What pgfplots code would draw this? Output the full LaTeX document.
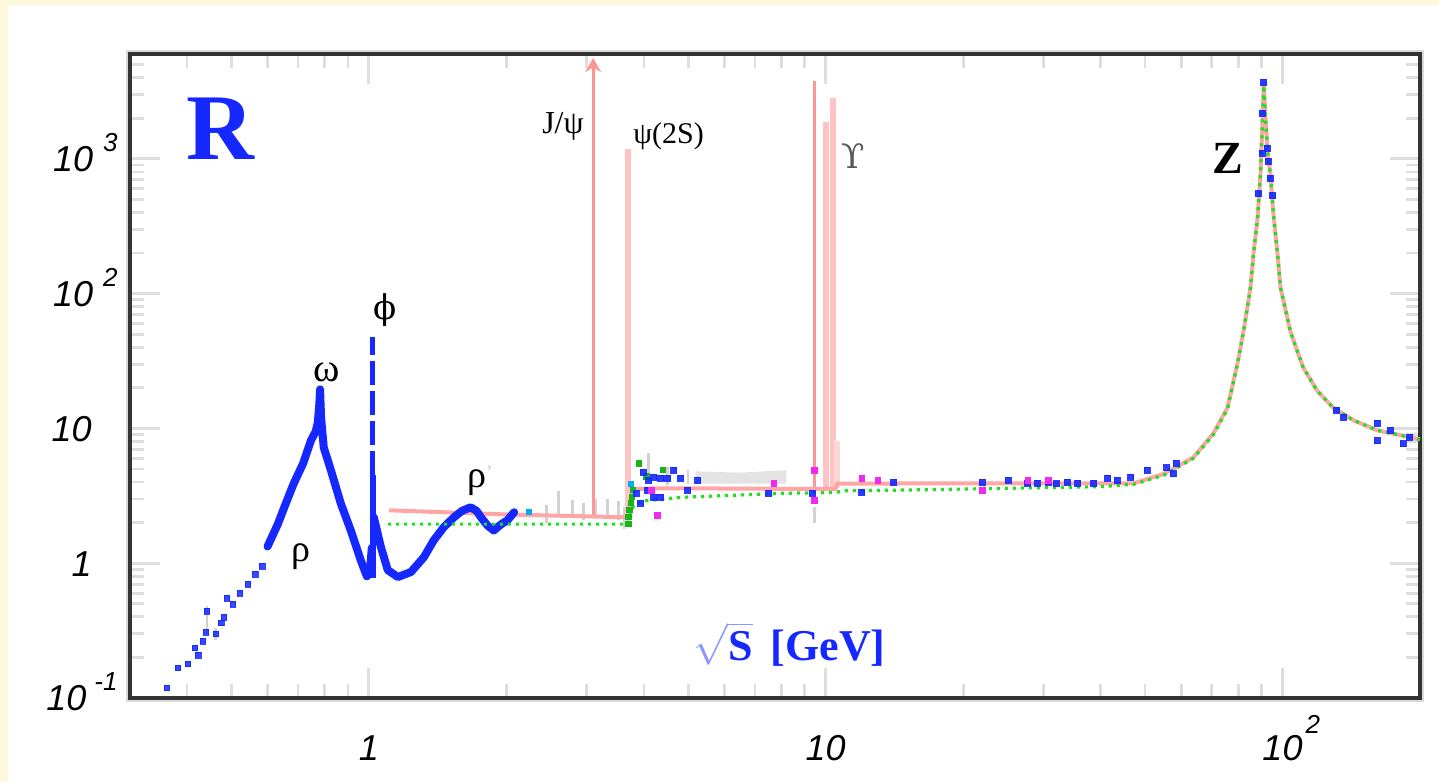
\documentclass[border=0pt]{standalone}
\usepackage{pgfplots}
\pgfplotsset{compat=1.18}
\usepackage{fontspec}
\setmainfont{Liberation Sans}
\newfontfamily\serif{Liberation Serif}
\newfontfamily\dserif{DejaVu Serif}
\usetikzlibrary{arrows.meta}
\definecolor{cream}{RGB}{255,248,220}
\definecolor{dblue}{RGB}{20,40,255}
\definecolor{lblue}{RGB}{140,150,255}
\definecolor{pinkr}{RGB}{255,150,150}
\definecolor{pinkl}{RGB}{255,195,195}
\definecolor{redl}{RGB}{255,165,165}
\definecolor{gline}{RGB}{30,225,30}
\definecolor{tickgray}{RGB}{222,222,222}
\definecolor{mag}{RGB}{240,40,240}
\newcommand\tl{\fontsize{18}{18}\selectfont\itshape}
\newcommand\ex[1]{{\fontsize{13}{13}\selectfont\itshape #1}}
\begin{document}
\begin{tikzpicture}
\fill[cream] (0,0) rectangle (719.5pt,391pt);
\fill[white] (4pt,0) rectangle (719.5pt,388.5pt);
\draw[gray!30, line width=1pt] (63.3pt,40.3pt) rectangle (711.7pt,365.7pt);
\begin{axis}[
  at={(65pt,42pt)}, anchor=south west,
  scale only axis, width=645pt, height=322pt,
  xmode=log, ymode=log,
  xmin=0.3, xmax=200, ymin=0.1, ymax=6000,
  axis line style={line width=1.6pt, black!80},
  tick align=inside,
  major tick length=15pt, minor tick length=7pt,
  tick style={tickgray, line width=1.4pt},
  xtick={1,10,100},
  minor xtick={0.4,0.5,0.6,0.7,0.8,0.9,2,3,4,5,6,7,8,9,20,30,40,50,60,70,80,90},
  ytick={0.1,1,10,100,1000},
  minor ytick={0.2,0.3,0.4,0.5,0.6,0.7,0.8,0.9,2,3,4,5,6,7,8,9,20,30,40,50,60,70,80,90,200,300,400,500,600,700,800,900,2000,3000,4000,5000},
  xticklabels={{\tl 1},{\tl 10},{\tl 10\rlap{\hspace{1.5pt}\raisebox{13.5pt}{\ex{2}}}}},
  yticklabels={{\tl 10\hspace{4pt}\raisebox{10pt}{\ex{-1}}},{\tl 1\hspace*{13pt}},{\tl 10\hspace*{13pt}},{\tl 10\hspace{5pt}\raisebox{10pt}{\ex{2}}},{\tl 10\hspace{5pt}\raisebox{10pt}{\ex{3}}}},
  xticklabel style={anchor=base, yshift=-31pt},
  yticklabel style={anchor=base east, inner sep=0pt, xshift=-6pt, yshift=-6.4pt},
  unbounded coords=jump,
]
% grey error bands / bars
\addplot[draw=none, fill=gray!22] coordinates {(5.2,3.9) (8.2,3.9) (8.2,4.9) (6.5,4.7) (5.2,4.8)} -- cycle;
\addplot[gray!35, line width=1.3pt] coordinates {
(2.45,2.0) (2.45,2.7) (2.6,nan) (2.6,2.2) (2.6,3.45) (2.79,nan) (2.79,2.2) (2.79,2.95)
(2.95,nan) (2.95,2.1) (2.95,2.8) (3.14,nan) (3.14,2.2) (3.14,3.0) (3.33,nan) (3.33,2.2) (3.33,3.0)
(3.52,nan) (3.52,2.1) (3.52,2.9) (3.62,nan) (3.62,1.8) (3.62,2.6) (4.1,nan) (4.1,4.5) (4.1,6.6)
(4.5,nan) (4.5,3.8) (4.5,5.2) (5.0,nan) (5.0,3.9) (5.0,4.9) (9.46,nan) (9.46,2.0) (9.46,2.6)
(0.442,nan) (0.442,0.3) (0.442,0.48) (0.461,nan) (0.461,0.27) (0.461,0.33)};
% resonance lines
\addplot[pinkr, line width=1.6pt, -{Stealth[length=7pt,width=8pt]}] coordinates {(3.097,2.2) (3.097,5600)};
\addplot[pinkl, line width=3pt] coordinates {(3.686,2.2) (3.686,1190)};
\addplot[pinkr, line width=1.4pt] coordinates {(9.46,3.3) (9.46,3780)};
\addplot[pinkl, line width=3pt] coordinates {(10.02,3.6) (10.02,1880)};
\addplot[pinkl, line width=3pt] coordinates {(10.36,3.6) (10.36,2830)};
\addplot[pinkl!70, line width=3pt] coordinates {(10.58,3.6) (10.58,8.1)};
% QCD line
\addplot[redl, line width=2pt] coordinates {
(1.106,2.47) (2.0,2.3) (3.69,2.19) (3.72,2.6) (3.78,3.55) (4.5,3.6) (10.5,3.55) (10.6,3.9)
(47.2,3.92) (55,4.6) (63.8,6.1) (70.6,9.2) (75.8,14.3) (79.7,30.3) (82.2,53) (85.1,111)
(86.4,198) (88.2,365) (89.5,774) (90.3,1700) (91.0,3600) (91.8,2000) (93.0,1000) (94.1,774)
(95.5,391) (97.5,198) (99,111) (104,53) (105.7,44.9) (111,28.3) (119,19.1) (129,14.3)
(143,11.5) (161,9.7) (200,8.3)};
% blue low-energy data
\addplot[dblue, only marks, mark=square*, mark size=1.4pt, opacity=0.85] coordinates {
(0.361,0.119) (0.382,0.167) (0.402,0.179) (0.416,0.235) (0.423,0.208) (0.433,0.264)
(0.440,0.308) (0.442,0.441) (0.463,0.298) (0.475,0.360) (0.482,0.398) (0.489,0.551)
(0.504,0.497) (0.522,0.600) (0.543,0.699) (0.564,0.829) (0.584,0.950)};
\addplot[dblue, line width=4pt, line join=round, line cap=round] coordinates {
(0.600,1.33) (0.632,1.95) (0.658,2.78) (0.685,3.91) (0.718,5.5) (0.747,8.15) (0.765,9.5)
(0.773,11) (0.779,15) (0.782,19.5) (0.786,12) (0.797,7.2) (0.826,4.89) (0.868,2.78)
(0.913,1.75) (0.960,1.05) (0.990,0.8) (1.005,0.85) (1.015,1.3)};
\addplot[dblue, line width=3pt] coordinates {(1.019,0.78) (1.019,4.5)};
\addplot[dblue, line width=2.5pt, dash pattern=on 12pt off 3pt] coordinates {(1.019,4.5) (1.019,48)};
\addplot[dblue, line width=4pt, line join=round, line cap=round] coordinates {
(1.025,2.2) (1.063,1.31) (1.10,0.89) (1.157,0.79) (1.236,0.86) (1.32,1.11) (1.387,1.48)
(1.459,1.85) (1.535,2.19) (1.60,2.45) (1.67,2.6) (1.72,2.45) (1.758,2.2) (1.82,1.9)
(1.877,1.75) (1.95,1.95) (2.01,2.08) (2.08,2.39)};
% higher-energy data points
\addplot[gline!80!black, only marks, mark=square*, mark size=1.3pt] coordinates {
(3.70,1.95) (3.70,2.2) (3.72,2.5) (3.74,2.8) (3.76,3.1) (3.78,3.5) (3.9,5.5) (4.05,4.4) (4.4,4.9)};
\addplot[dblue, only marks, mark=square*, mark size=1.5pt, opacity=0.9] coordinates {
(3.85,3.3) (3.94,2.78) (3.99,4.72) (4.08,3.47) (4.1,4.12) (4.2,4.33) (4.2,3.08) (4.35,4.26)
(4.35,3.08) (4.51,4.26) (4.65,4.88) (4.82,4.26) (4.99,3.47) (5.25,4.12) (7.5,3.3) (9.35,3.3)
(12.0,3.36) (14.1,3.98) (22.0,3.98) (25.1,4.12) (27.7,3.91) (29.0,3.91) (30.7,3.98) (32,3.9)
(33.8,3.98) (35.6,3.91) (38.6,3.91) (41.4,4.26) (43.5,4.12) (46.5,4.33) (50.6,4.88)
(55.8,5.1) (57.6,4.6) (58.6,5.5)
(88.6,552) (90.3,1100) (90.3,2190) (91.0,3700) (93.0,960) (92.5,1200) (94.1,720) (95.1,532)
(131,13.6) (136,12.1) (161,10.9) (161,8.1) (172,9.7) (184,7.7) (190,8.6)};
\addplot[mag, only marks, mark=square*, mark size=1.4pt] coordinates {
(4.28,2.27) (4.15,3.47) (7.7,3.91) (9.46,4.88) (9.46,2.93) (12.0,4.26) (13.0,4.12) (22,3.47)
(27.7,4.12) (30.7,4.12)};
\addplot[cyan, only marks, mark=square*, mark size=1.2pt] coordinates {(2.24,2.39) (3.75,3.9)};
% naive quark model (green dotted)
\addplot[gline, line width=1.6pt, dash pattern=on 1.6pt off 2.4pt] coordinates {
(1.1,1.95) (3.68,1.95) (3.72,2.2) (3.8,2.7) (4.0,2.9) (4.8,3.08) (8.0,3.3) (10.5,3.35)
(11,3.45) (13.2,3.47) (20,3.55) (40,3.7) (47.2,3.85) (55,4.5) (63.8,6.0) (70.6,9.0) (75.8,14)
(79.7,30) (82.2,53) (85.1,111) (86.4,198) (88.2,365) (89.5,774) (90.3,1700) (91.0,3500)
(91.8,2000) (93.0,1000) (94.1,774) (95.5,391) (97.5,198) (99,111) (104,53) (105.7,44.9)
(111,28.3) (119,19.1) (129,14.3) (143,11.5) (161,9.7) (200,8.3)};
% labels
\node[dblue, font=\serif\bfseries\fontsize{47}{47}\selectfont] at (axis cs:0.474,1668) {R};
\node[font=\serif\fontsize{20}{20}\selectfont] at (axis cs:0.81,26) {ω};
\node[font=\dserif\fontsize{17}{17}\selectfont] at (axis cs:1.084,75) {ϕ};
\node[font=\serif\fontsize{19}{19}\selectfont] at (axis cs:0.71,1.12) {ρ};
\node[font=\serif\fontsize{19}{19}\selectfont] at (axis cs:1.75,4.1) {ρ\raisebox{4pt}{\textcolor{gray!40}{\fontsize{10}{10}\selectfont ’}}};
\node[font=\serif\fontsize{16}{16}\selectfont] at (axis cs:2.66,1750) {J/ψ};
\node[font=\serif\fontsize{15}{15}\selectfont] at (axis cs:4.53,1480) {ψ(2S)};
\node[gray!70!black, font=\dserif\fontsize{17}{17}\selectfont] at (axis cs:11.5,1050) {ϒ};
\node[font=\serif\bfseries\fontsize{23}{23}\selectfont] at (axis cs:75.8,1000) {Z};
\node[dblue, anchor=base, font=\serif\bfseries\fontsize{22}{22}\selectfont] at (axis cs:8.34,0.191)
  {\textcolor{lblue}{$\sqrt{\mbox{\textcolor{dblue}{S}}}$}\hspace{9pt}[GeV]};
\end{axis}
\end{tikzpicture}
\end{document}
